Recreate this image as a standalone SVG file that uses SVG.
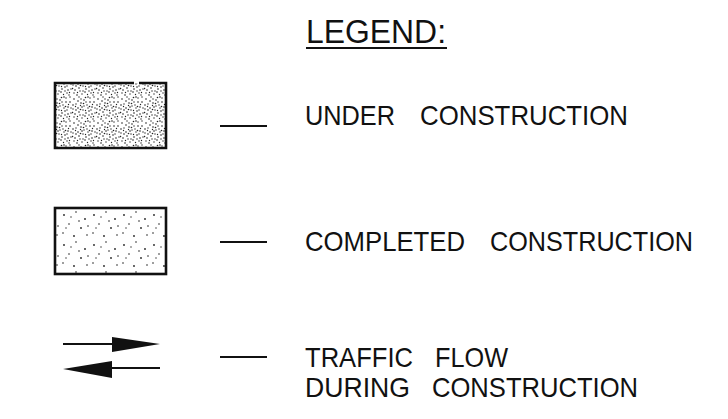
<svg xmlns="http://www.w3.org/2000/svg" width="728" height="419" viewBox="0 0 728 419">
<style>
text{font-family:"Liberation Sans",Arial,sans-serif;fill:#111;}
.lbl{font-size:28px;}
.ln{stroke:#111;stroke-width:2.2;fill:none;}
.box{stroke:#111;stroke-width:2.6;}
</style>
<defs>
<pattern id="dense" width="24" height="24" patternUnits="userSpaceOnUse">
<g fill="#222">
<circle cx="2" cy="3" r="0.8"/><circle cx="7" cy="1" r="0.7"/><circle cx="12" cy="4" r="0.8"/><circle cx="18" cy="2" r="0.7"/><circle cx="22" cy="6" r="0.8"/><circle cx="4" cy="8" r="0.7"/><circle cx="9" cy="7" r="0.8"/><circle cx="15" cy="9" r="0.7"/><circle cx="20" cy="11" r="0.8"/><circle cx="1" cy="13" r="0.7"/><circle cx="6" cy="12" r="0.8"/><circle cx="11" cy="14" r="0.7"/><circle cx="17" cy="15" r="0.8"/><circle cx="23" cy="17" r="0.7"/><circle cx="3" cy="18" r="0.8"/><circle cx="8" cy="19" r="0.7"/><circle cx="13" cy="20" r="0.8"/><circle cx="19" cy="21" r="0.7"/><circle cx="5" cy="23" r="0.8"/><circle cx="10" cy="22" r="0.7"/><circle cx="16" cy="1" r="0.8"/><circle cx="21" cy="23" r="0.7"/><circle cx="14" cy="17" r="0.8"/><circle cx="2" cy="21" r="0.7"/><circle cx="7" cy="16" r="0.8"/><circle cx="12" cy="10" r="0.7"/><circle cx="18" cy="6" r="0.8"/><circle cx="23" cy="12" r="0.7"/><circle cx="9" cy="3" r="0.7"/><circle cx="4" cy="14" r="0.8"/><circle cx="16" cy="12" r="0.7"/><circle cx="20" cy="18" r="0.8"/><circle cx="11" cy="19" r="0.7"/><circle cx="6" cy="5" r="0.8"/><circle cx="14" cy="6" r="0.7"/><circle cx="22" cy="1" r="0.7"/><circle cx="1" cy="9" r="0.8"/><circle cx="17" cy="19" r="0.7"/><circle cx="10" cy="11" r="0.8"/><circle cx="19" cy="14" r="0.7"/>
<circle cx="3.5" cy="10.5" r="0.7"/><circle cx="13.5" cy="1.5" r="0.8"/><circle cx="20.5" cy="8.5" r="0.7"/><circle cx="8.5" cy="13.5" r="0.8"/><circle cx="15.5" cy="22.5" r="0.7"/><circle cx="0.5" cy="16.5" r="0.8"/><circle cx="21.5" cy="20.5" r="0.7"/><circle cx="11.5" cy="7.5" r="0.8"/><circle cx="5.5" cy="20.5" r="0.7"/><circle cx="17.5" cy="10.5" r="0.8"/><circle cx="13.5" cy="14.5" r="0.7"/><circle cx="8.5" cy="9.5" r="0.7"/>
</g>
</pattern>
<pattern id="sparse" width="30" height="30" patternUnits="userSpaceOnUse">
<g fill="#222">
<circle cx="4" cy="5" r="0.9"/><circle cx="16" cy="2" r="0.8"/><circle cx="25" cy="9" r="0.9"/><circle cx="9" cy="14" r="0.8"/><circle cx="21" cy="18" r="0.9"/><circle cx="3" cy="23" r="0.8"/><circle cx="14" cy="26" r="0.9"/><circle cx="27" cy="25" r="0.8"/><circle cx="11" cy="7" r="0.7"/><circle cx="19" cy="11" r="0.8"/><circle cx="6" cy="18" r="0.7"/><circle cx="28" cy="16" r="0.8"/>
</g>
</pattern>
</defs>
<g id="title">
<text x="306" y="43" font-size="34" textLength="140" lengthAdjust="spacingAndGlyphs">LEGEND:</text>
<line class="ln" x1="306" y1="48" x2="447" y2="48"/>
</g>
<g id="under-construction">
<rect x="55" y="83" width="111" height="65" fill="url(#dense)"/>
<path class="box" fill="none" d="M134 83 H55 V148 H166 V83 H139"/>
<text class="lbl" x="305" y="125" textLength="90" lengthAdjust="spacingAndGlyphs">UNDER</text>
<text class="lbl" x="420" y="125" textLength="208" lengthAdjust="spacingAndGlyphs">CONSTRUCTION</text>
</g>
<g id="completed-construction">
<rect class="box" x="55" y="208" width="111" height="66" fill="url(#sparse)"/>
<text class="lbl" x="305" y="251" textLength="160" lengthAdjust="spacingAndGlyphs">COMPLETED</text>
<text class="lbl" x="490" y="251" textLength="203" lengthAdjust="spacingAndGlyphs">CONSTRUCTION</text>
</g>
<g id="traffic-flow">
<line class="ln" x1="63" y1="344" x2="113" y2="344"/>
<polygon points="112,337 160,344 112,352" fill="#111"/>
<line class="ln" x1="111" y1="368" x2="160" y2="368"/>
<polygon points="63,369 112,361 112,378" fill="#111"/>
<text class="lbl" x="305" y="367" textLength="108" lengthAdjust="spacingAndGlyphs">TRAFFIC</text>
<text class="lbl" x="435" y="367" textLength="73" lengthAdjust="spacingAndGlyphs">FLOW</text>
<text class="lbl" x="305" y="397" textLength="105" lengthAdjust="spacingAndGlyphs">DURING</text>
<text class="lbl" x="432" y="397" textLength="206" lengthAdjust="spacingAndGlyphs">CONSTRUCTION</text>
</g>
<g id="connectors">
<line class="ln" x1="220" y1="126" x2="267" y2="126"/>
<line class="ln" x1="220" y1="242" x2="267" y2="242"/>
<line class="ln" x1="220" y1="357" x2="267" y2="357"/>
</g>
</svg>
